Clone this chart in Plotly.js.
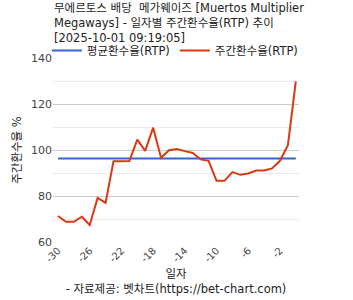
<!DOCTYPE html>
<html><head><meta charset="utf-8">
<script src="https://cdn.plot.ly/plotly-3.0.1.min.js"></script>
<style>html,body{margin:0;padding:0;background:#fff}#chart{width:353px;height:300px}</style>
</head><body><div id="chart"></div>
<script>
const days = [-30,-29,-28,-27,-26,-25,-24,-23,-22,-21,-20,-19,-18,-17,-16,-15,-14,-13,-12,-11,-10,-9,-8,-7,-6,-5,-4,-3,-2,-1,0];
const weeklyRTP = [71.3,68.8,68.8,71.0,67.4,79.2,77.0,95.1,95.1,95.2,104.5,99.6,109.7,96.6,99.9,100.4,99.5,98.7,95.9,95.3,86.6,86.6,90.4,89.2,89.8,91.1,91.1,92.0,95.3,102.1,129.8];
const avgRTP = 96.3;
const xTicks = [-30,-26,-22,-18,-14,-10,-6,-2];
const avgSeries = days.map(() => avgRTP);
const titleText = '무에르토스 배당  메가웨이즈 [Muertos Multiplier<br>Megaways] - 일자별 주간환수율(RTP) 추이<br>[2025-10-01 09:19:05]';

const F = '"DejaVu Sans", "Noto Sans CJK KR", sans-serif';
const data = [
  {x: days, y: avgSeries, type:'scatter', mode:'lines', name:'평균환수율(RTP)', line:{color:'#3366cc', width:2}},
  {x: days, y: weeklyRTP, type:'scatter', mode:'lines', name:'주간환수율(RTP)', line:{color:'#dc3912', width:2}}
];
const layout = {
  width:353, height:300,
  margin:{l:53, r:54, t:58, b:58},
  paper_bgcolor:'#fff', plot_bgcolor:'#fff',
  font:{family:F, size:11, color:'#222'},
  showlegend:true,
  annotations:[{text:titleText, xref:'paper', yref:'paper', x:-0.005, y:(242+1.5)/184, xanchor:'left', yanchor:'top',
    align:'left', showarrow:false, font:{family:F, size:11.5, color:'#222'}}],
  legend:{orientation:'h', x:-0.025, xanchor:'left', y:(242-36)/184, yanchor:'top', yref:'paper',
    font:{family:F, size:11.5, color:'#222'}, itemwidth:30, tracegroupgap:0, bgcolor:'rgba(0,0,0,0)'},
  xaxis:{range:[-30.63,0.4], tickvals:xTicks, ticktext:xTicks.map(String), tickangle:-45,
    showgrid:false, zeroline:false, showline:false, ticks:'', tickfont:{size:10, color:'#444'},
    title:{text:'일자<br>- 자료제공: 벳차트(https://bet-chart.com)', font:{size:11.5, color:'#222'}, standoff:6}},
  yaxis:{range:[60,140], dtick:20, tick0:60, showgrid:true, gridcolor:'#cccccc', gridwidth:1,
    zeroline:false, showline:false, ticks:'', tickfont:{size:11, color:'#444'},
    minor:{dtick:10, showgrid:true, gridcolor:'#ebebeb', gridwidth:1},
    title:{text:'주간환수율 %', font:{size:11.5, color:'#222'}, standoff:6}}
};
Plotly.newPlot('chart', data, layout, {displayModeBar:false, staticPlot:true});
</script></body></html>
